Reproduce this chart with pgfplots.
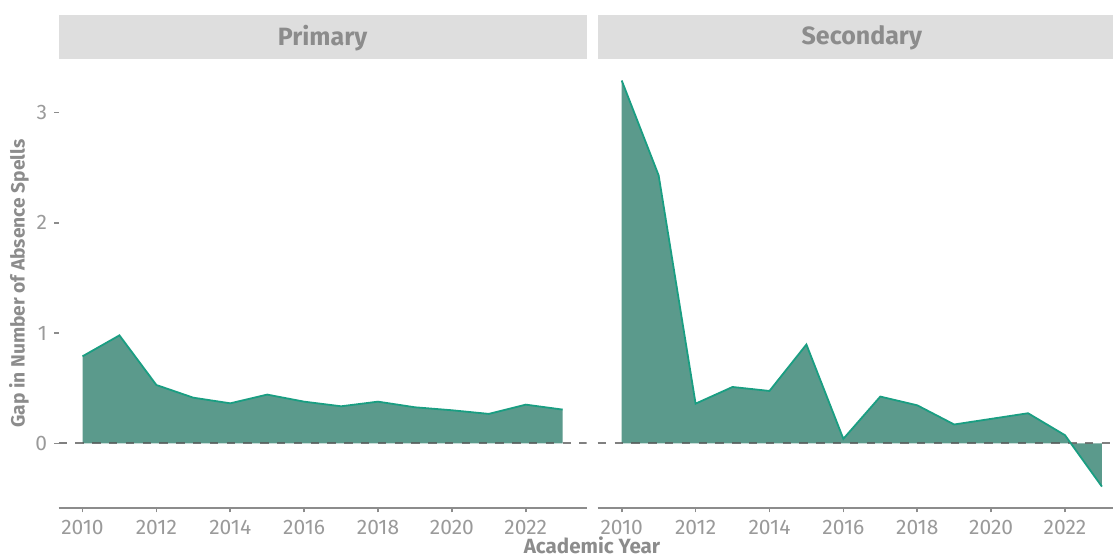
\documentclass[border=0pt]{standalone}
\usepackage{pgfplots}
\pgfplotsset{compat=1.18}
\usepackage{pgfplotstable}
\usepackage{fontspec}
\setmainfont{Fira Sans}
\definecolor{fillc}{HTML}{5B9A8C}
\definecolor{linec}{HTML}{1A9E82}
\definecolor{stripc}{HTML}{DEDEDE}
\definecolor{txtc}{HTML}{8C8C8C}
\definecolor{tickc}{HTML}{9A9A9A}
\definecolor{axc}{HTML}{8C8C8C}
\definecolor{zeroc}{HTML}{555555}

\pgfplotstableread{
year gap
2010 0.79
2011 0.98
2012 0.53
2013 0.415
2014 0.364
2015 0.443
2016 0.379
2017 0.337
2018 0.379
2019 0.328
2020 0.301
2021 0.268
2022 0.352
2023 0.307
}\primary

\pgfplotstableread{
year gap
2010 3.29
2011 2.43
2012 0.361
2013 0.512
2014 0.476
2015 0.897
2016 0.042
2017 0.425
2018 0.346
2019 0.172
2020 0.223
2021 0.274
2022 0.075
2023 -0.391
}\secondary

\pgfplotsset{
  panel/.style={
    scale only axis, height=224.5pt,
    anchor=south west,
    xmin=2009.35,
    ymin=-0.585, ymax=3.485,
    axis x line=bottom, axis y line=left,
    x axis line style={-, draw=axc, line width=0.8pt},
    y axis line style={-, draw=none},
    tick align=outside,
    major tick length=2.2pt,
    tick style={draw=axc, line width=0.8pt},
    xtick={2010,2012,...,2022},
    /pgf/number format/assume math mode=true,
    /pgf/number format/1000 sep={},
    x tick label style={font=\fontsize{10.5}{12}\selectfont, text=tickc, yshift=-0.5pt},
    y tick label style={font=\fontsize{10.5}{12}\selectfont, text=tickc},
  }
}

\begin{document}
\begin{tikzpicture}
\useasboundingbox (0,0) rectangle (556.5pt,278.5pt);

\begin{axis}[panel, at={(29.25pt,24.5pt)}, width=264.1pt, xmax=2023.65,
  ytick={0,1,2,3}]
  \addplot[fill=fillc, draw=none] table[x=year,y=gap] {\primary} \closedcycle;
  \addplot[zeroc, opacity=0.75, line width=1pt, dash pattern=on 4.2pt off 4.2pt] coordinates {(2009.35,0) (2023.65,0)};
  \addplot[linec, line width=0.9pt] table[x=year,y=gap] {\primary};
\end{axis}

\begin{axis}[panel, at={(298.85pt,24.5pt)}, width=257.65pt, xmax=2023.30,
  ytick=\empty]
  \addplot[fill=fillc, draw=none] table[x=year,y=gap] {\secondary} \closedcycle;
  \addplot[zeroc, opacity=0.75, line width=1pt, dash pattern=on 4.2pt off 4.2pt] coordinates {(2009.35,0) (2023.65,0)};
  \addplot[linec, line width=0.9pt] table[x=year,y=gap] {\secondary};
\end{axis}

% facet strips
\fill[stripc] (29.25pt,249pt) rectangle (293.35pt,271pt);
\fill[stripc] (298.85pt,249pt) rectangle (556.5pt,271pt);
\node[text=txtc, font=\fontsize{12.5}{14}\selectfont\bfseries] at (161.3pt,259.5pt) {Primary};
\node[text=txtc, font=\fontsize{12.5}{14}\selectfont\bfseries] at (430.9pt,259.5pt) {Secondary};

% axis titles
\node[text=txtc, font=\fontsize{9.6}{11}\selectfont\bfseries, rotate=90] at (9.5pt,136.75pt) {Gap in Number of Absence Spells};
\node[text=txtc, font=\fontsize{10.3}{12}\selectfont\bfseries] at (296pt,5.8pt) {Academic Year};
\end{tikzpicture}
\end{document}
